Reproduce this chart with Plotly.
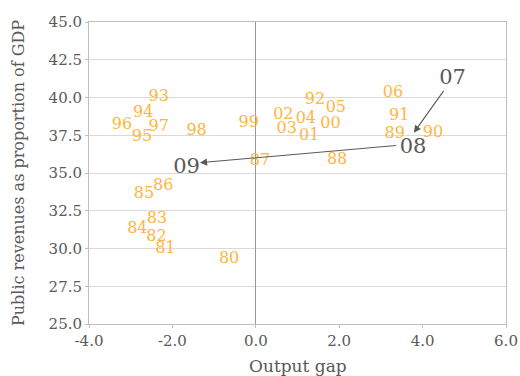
import plotly.graph_objects as go

years = ["80","81","82","83","84","85","86","87","88","89","90","91","92","93","94","95","96","97","98","99",
         "00","01","02","03","04","05","06"]
gap = [-0.64,-2.17,-2.38,-2.37,-2.84,-2.68,-2.22,0.10,1.95,3.33,4.25,3.44,1.42,-2.33,-2.70,-2.73,-3.21,-2.33,-1.42,-0.17,
       1.79,1.28,0.66,0.74,1.20,1.92,3.29]
revenue = [29.30,29.95,30.78,31.93,31.31,33.59,34.16,35.81,35.86,37.58,37.63,38.77,39.83,40.05,39.0,37.40,38.2,38.07,37.78,38.29,
           38.25,37.47,38.84,37.89,38.56,39.28,40.28]

crisis_years = ["07","08","09"]
crisis_gap = [4.72,3.77,-1.66]
crisis_revenue = [41.23,36.70,35.35]

# arrow endpoints (tail -> head)
arrow_tail_x = [4.53, 3.40]
arrow_tail_y = [40.54, 36.83]
arrow_head_x = [3.79, -1.34]
arrow_head_y = [37.67, 35.68]

x_ticks = [-4, -2, 0, 2, 4, 6]
y_ticks = [25, 27.5, 30, 32.5, 35, 37.5, 40, 42.5, 45]

FONT = "DejaVu Serif"
ORANGE = "#FFB53F"
DARK = "#595959"

fig = go.Figure()
fig.add_trace(go.Scatter(x=gap, y=revenue, mode="text", text=years,
                         textposition="middle center",
                         textfont=dict(family=FONT, size=16, color=ORANGE),
                         hoverinfo="skip", showlegend=False))
fig.add_trace(go.Scatter(x=crisis_gap, y=crisis_revenue, mode="text", text=crisis_years,
                         textposition="middle center",
                         textfont=dict(family=FONT, size=21, color=DARK),
                         hoverinfo="skip", showlegend=False))

for tx, ty, hx, hy in zip(arrow_tail_x, arrow_tail_y, arrow_head_x, arrow_head_y):
    fig.add_annotation(x=hx, y=hy, ax=tx, ay=ty, xref="x", yref="y", axref="x", ayref="y",
                       showarrow=True, arrowhead=2, arrowsize=1.3, arrowwidth=1.1,
                       arrowcolor=DARK, text="")

fig.add_annotation(text="Output gap", xref="paper", yref="paper", x=0.5, y=0,
                   yshift=-42, yanchor="middle", showarrow=False,
                   font=dict(family=FONT, size=17, color=DARK))
fig.add_annotation(text="Public revenues as proportion of GDP", xref="paper", yref="paper",
                   x=0, y=0.5, xshift=-71, xanchor="center", textangle=-90, showarrow=False,
                   font=dict(family=FONT, size=16, color=DARK))

fig.update_layout(
    width=520, height=376,
    margin=dict(l=89, r=14, t=22, b=52, autoexpand=False),
    paper_bgcolor="white", plot_bgcolor="white",
    font=dict(family=FONT, color=DARK),
    xaxis=dict(range=[-4, 6], tickvals=x_ticks, ticktext=[f"{v:.1f}" for v in x_ticks],
               showgrid=False, zeroline=True, zerolinecolor="#999999", zerolinewidth=1,
               showline=True, linecolor="#BFBFBF", linewidth=1, mirror=True,
               ticks="outside", ticklen=3, tickcolor="#BFBFBF", automargin=False,
               tickfont=dict(family=FONT, size=15, color=DARK)),
    yaxis=dict(range=[25, 45], tickvals=y_ticks, ticktext=[f"{v:.1f}" for v in y_ticks],
               showgrid=True, gridcolor="#D9D9D9", gridwidth=1, zeroline=False,
               showline=True, linecolor="#BFBFBF", linewidth=1, mirror=True,
               ticks="outside", ticklen=3, tickcolor="#BFBFBF", automargin=False,
               tickfont=dict(family=FONT, size=15, color=DARK)),
)

fig.write_html("out.html", config={"displayModeBar": False},
               post_script="document.body.style.margin='0';document.body.style.overflow='hidden';")
